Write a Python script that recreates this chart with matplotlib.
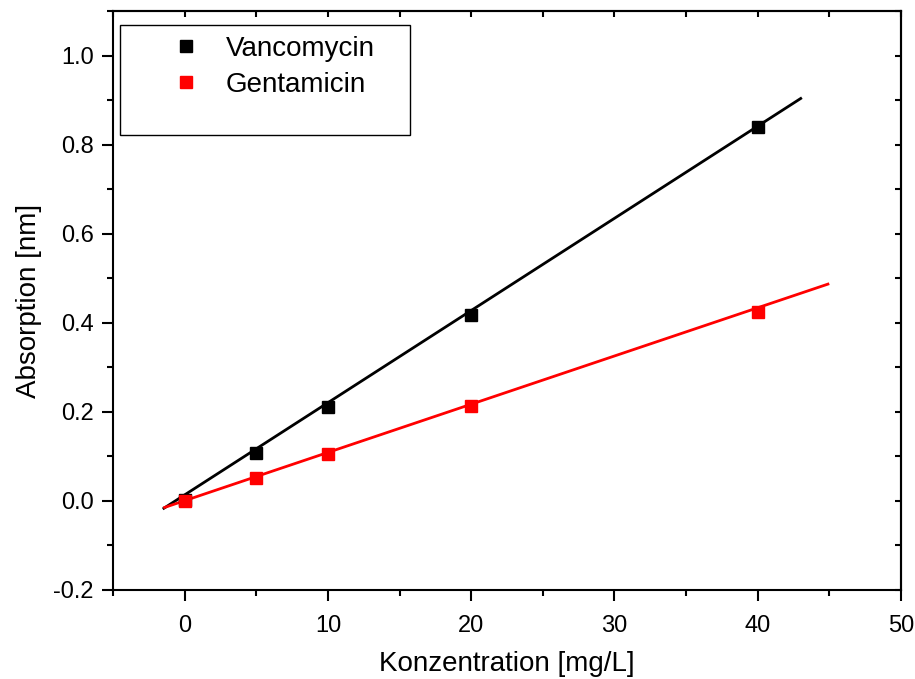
import matplotlib
matplotlib.use('Agg')
import matplotlib.pyplot as plt
from matplotlib.patches import Rectangle
from matplotlib.ticker import MultipleLocator, FormatStrFormatter
import numpy as np

# Measured concentrations and absorptions
konz = [0, 5, 10, 20, 40]
vanco = [0.003, 0.107, 0.211, 0.418, 0.840]
genta = [0.000, 0.051, 0.106, 0.212, 0.425]

# Linear fits as shown in the plot: (slope, intercept, x start, x end)
vanco_fit = [0.0207, 0.0135, -1.45, 43.0]
genta_fit = [0.01083, 0.0005, -1.4, 44.9]

plt.rcParams['font.family'] = ['Liberation Sans', 'DejaVu Sans']
plt.rcParams['axes.unicode_minus'] = False

fig = plt.figure(figsize=(9.15, 6.79), dpi=100)
ax = fig.add_axes([0.1235, 0.1311, 0.8612, 0.8527])

for y, fit, col, lab in [(vanco, vanco_fit, 'black', 'Vancomycin'),
                          (genta, genta_fit, '#ff0000', 'Gentamicin')]:
    k, d, x0, x1 = fit
    xx = np.array([x0, x1])
    ax.plot(xx, k * xx + d, color=col, lw=2.0, zorder=2)
    ax.plot(konz, y, 's', color=col, ms=8, label=lab, zorder=3)

ax.set_xlim(-5, 50)
ax.set_ylim(-0.2, 1.1)
ax.xaxis.set_major_locator(MultipleLocator(10))
ax.xaxis.set_minor_locator(MultipleLocator(5))
ax.yaxis.set_major_locator(MultipleLocator(0.2))
ax.yaxis.set_minor_locator(MultipleLocator(0.1))
ax.yaxis.set_major_formatter(FormatStrFormatter('%.1f'))

for s in ax.spines.values():
    s.set_linewidth(1.5)
ax.tick_params(which='both', direction='out', width=1.5, labelsize=17,
               top=False, right=False)
ax.tick_params(which='major', length=8, pad=6)
ax.tick_params(axis='x', which='major', pad=10)
ax.tick_params(which='minor', length=4)

# inward ticks on top / right
ax2 = ax.secondary_xaxis('top')
ax2.xaxis.set_major_locator(MultipleLocator(5))
ax2.tick_params(direction='in', length=4, width=1.5, labeltop=False)
ax3 = ax.secondary_yaxis('right')
ax3.yaxis.set_major_locator(MultipleLocator(0.1))
ax3.tick_params(direction='in', length=4, width=1.5, labelright=False)
ax2.spines['top'].set_linewidth(1.5)
ax3.spines['right'].set_linewidth(1.5)

ax.set_xlabel('Konzentration [mg/L]', fontsize=20, labelpad=10)
ax.set_ylabel('Absorption [nm]', fontsize=20, labelpad=8)

ax.add_patch(Rectangle((0.0089, 0.786), 0.368, 0.19, transform=ax.transAxes,
                       fill=False, lw=1.0, ec='black', zorder=4))
ax.legend(loc='upper left', bbox_to_anchor=(0.066, 0.957), frameon=False,
          fontsize=20, handlelength=1.5, handletextpad=0.7, labelspacing=0.37,
          borderpad=0, borderaxespad=0)

fig.savefig('out.png', dpi=100)
